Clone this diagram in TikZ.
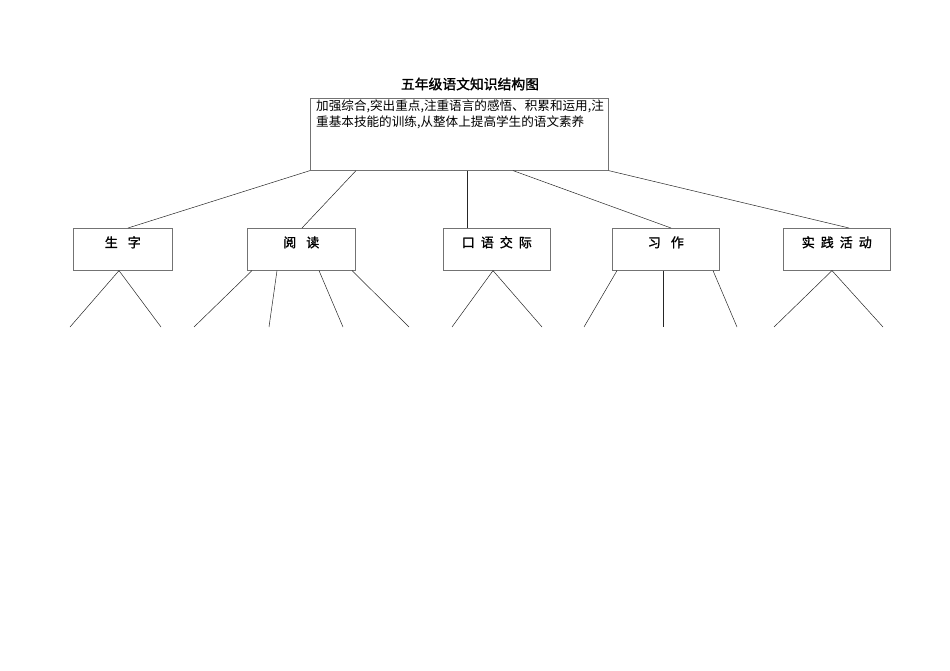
\documentclass[tikz,border=0pt]{standalone}
\usepackage{fontspec}
\newfontfamily\cjk{Noto Sans CJK SC}
\newfontfamily\cjkb{Noto Sans CJK SC}[FakeBold=1.5]
\begin{document}
\begin{tikzpicture}[x=1pt,y=-1pt,
  box/.style={draw=black!55,line width=0.6pt,inner sep=0pt,anchor=north west,
    minimum height=42pt,text height=10pt,text depth=14pt,
    font=\cjkb\fontsize{13}{15}\selectfont},
  link/.style={draw=black!85,line width=0.5pt}]
\useasboundingbox (0,0) rectangle (950,671);
\node[font=\cjkb\fontsize{13.8}{15}\selectfont] (title) at (470,84) {五年级语文知识结构图};
\node[draw=black!55,line width=0.6pt,anchor=north west,minimum width=298pt,minimum height=72pt,inner sep=0pt] (top) at (310,98) {};
\node[anchor=north west,inner sep=0pt,align=left,font=\cjk\fontsize{12.6}{16}\selectfont] (toptext) at (316,99.5)
  {加强综合,突出重点,注重语言的感悟、积累和运用,注\\重基本技能的训练,从整体上提高学生的语文素养};
\node[box,minimum width=99pt] (b1) at (73,228) {生\hspace{10pt}字};
\node[box,minimum width=108pt] (b2) at (247,228) {阅\hspace{10pt}读};
\node[box,minimum width=107pt] (b3) at (443,228) {口\hspace{6pt}语\hspace{6pt}交\hspace{6pt}际};
\node[box,minimum width=107pt] (b4) at (612,228) {习\hspace{10pt}作};
\node[box,minimum width=107pt] (b5) at (783,228) {实\hspace{6pt}践\hspace{6pt}活\hspace{6pt}动};
% connectors top -> boxes
\draw[link] (top.south west) -- ([xshift=55pt]b1.north west);
\draw[link] ([xshift=46pt]top.south west) -- ([xshift=55pt]b2.north west);
\draw[link] ([xshift=157pt]top.south west) -- ([xshift=24pt]b3.north west);
\draw[link] ([xshift=203pt]top.south west) -- ([xshift=59pt]b4.north west);
\draw[link] (top.south east) -- ([xshift=66pt]b5.north west);
% free ends
\foreach \n/\x in {e1/70,e2/161,e3/194,e4/269,e5/343,e6/409,e7/452,e8/542,e9/584,e10/663,e11/737,e12/774,e13/883}
  \coordinate (\n) at (\x,327);
\draw[link] ([xshift=46pt]b1.south west) -- (e1);
\draw[link] ([xshift=46pt]b1.south west) -- (e2);
\draw[link] ([xshift=5pt]b2.south west) -- (e3);
\draw[link] ([xshift=30pt]b2.south west) -- (e4);
\draw[link] ([xshift=72pt]b2.south west) -- (e5);
\draw[link] ([xshift=105pt]b2.south west) -- (e6);
\draw[link] ([xshift=50pt]b3.south west) -- (e7);
\draw[link] ([xshift=50pt]b3.south west) -- (e8);
\draw[link] ([xshift=5pt]b4.south west) -- (e9);
\draw[link] ([xshift=51pt]b4.south west) -- (e10);
\draw[link] ([xshift=101pt]b4.south west) -- (e11);
\draw[link] ([xshift=49pt]b5.south west) -- (e12);
\draw[link] ([xshift=49pt]b5.south west) -- (e13);
\end{tikzpicture}
\end{document}
